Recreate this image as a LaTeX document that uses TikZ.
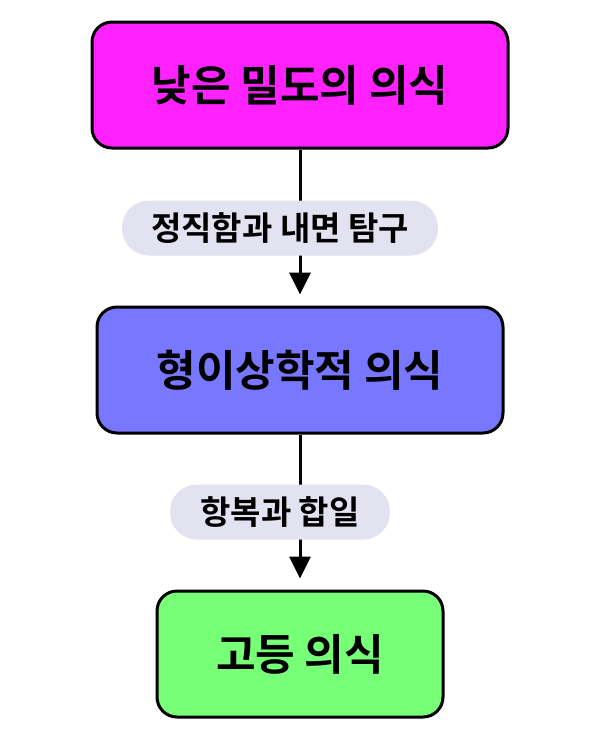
\documentclass[tikz,border=0pt]{standalone}
\usepackage{fontspec}
\newfontfamily\kr{Noto Sans CJK KR}[BoldFont={* Bold}]
\usetikzlibrary{arrows.meta}
\definecolor{cmag}{HTML}{FF22FF}
\definecolor{cblue}{HTML}{7777FF}
\definecolor{cgreen}{HTML}{77FF77}
\definecolor{cpill}{HTML}{E2E2F0}
\begin{document}
\begin{tikzpicture}[x=1pt,y=-1pt,
  box/.style={draw=black,line width=3pt,rounded corners=20pt,minimum height=126pt,inner sep=0pt,font=\kr\bfseries\fontsize{43}{50}\selectfont,text=black},
  pill/.style={fill=cpill,rounded corners=27pt,minimum height=55pt,inner sep=0pt,font=\kr\bfseries\fontsize{33}{40}\selectfont,text=black},
  conn/.style={line width=3pt,-{Triangle[length=22pt,width=21pt]},shorten >=11pt}]
\useasboundingbox (0,0) rectangle (600,740);
\node[box,fill=cmag,minimum width=416pt] (a) at (300,85) {낮은 밀도의 의식};
\node[box,fill=cblue,minimum width=406pt] (b) at (300,370) {형이상학적 의식};
\node[box,fill=cgreen,minimum width=286pt] (c) at (300,654) {고등 의식};
\draw[conn] (a) -- (b);
\draw[conn] (b) -- (c);
\node[pill,minimum width=316pt] (l1) at (280,228) {정직함과 내면 탐구};
\node[pill,minimum width=220pt] (l2) at (280,512) {항복과 합일};
\end{tikzpicture}
\end{document}
